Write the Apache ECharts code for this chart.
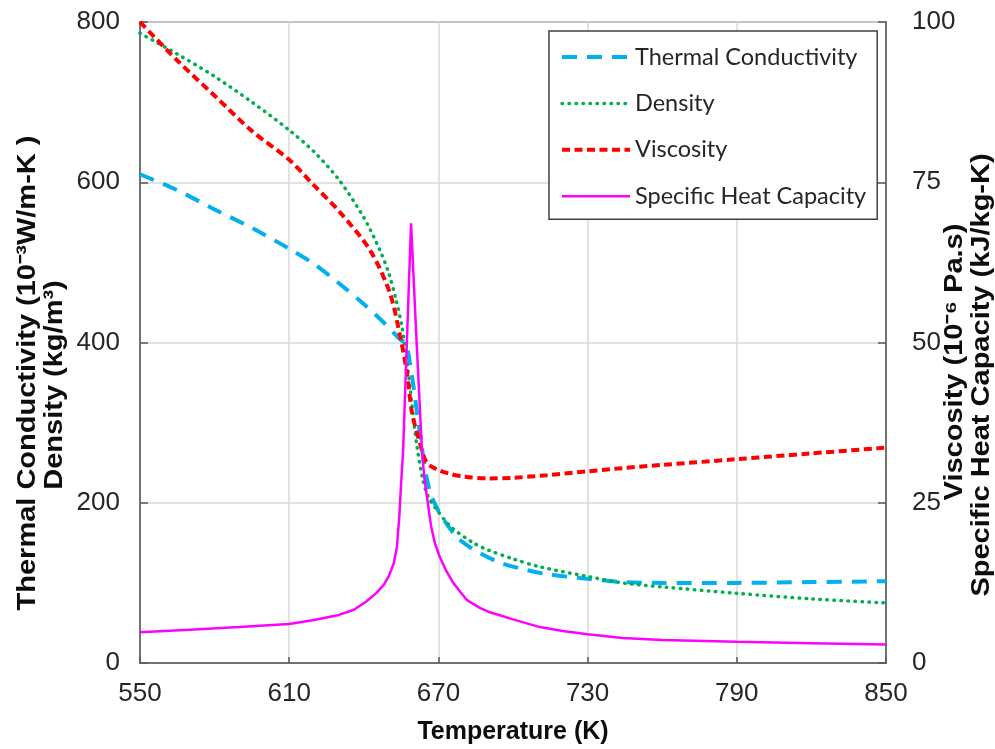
<!DOCTYPE html>
<html>
<head>
<meta charset="utf-8">
<script src="https://cdn.jsdelivr.net/npm/echarts@6/dist/echarts.min.js"></script>
<style>html,body{margin:0;padding:0;background:#fff}#c{width:995px;height:749px}</style>
</head>
<body>
<div id="c"></div>
<script>
// ---- data ----
const xTicks = [550, 610, 670, 730, 790, 850];
const leftTicks = [0, 200, 400, 600, 800];
const rightTicks = [0, 25, 50, 75, 100];

const kT = [550,565,580,595,610,620,630,640,648,654.6,657,658.5,660,661.5,662.6,664,665.5,667,670,673,677.5,682,686.7,695,705.6,713.6,730,744,760,790,820,850];
const kV = [610,590,566,543,517,498,474,448,425,404,398,375,345,310,287,255,228,210,190,175,157,146,137,125,116,111,105,101,100,100,101,102];

const dT = [550,565,580,595,610,620,630,640,646.5,650,653,655.3,657,658.6,660,661.4,663.8,666,669.4,675,684,690,700,710.8,730,744,760,790,820,850];
const dV = [786,760,732,700,665,638,603,556,515,487,453,420,385,344,305,270,228,207,191,170,150,141,130,120,108,100,95,87,80,75];

const vT = [550,565,580,595,610,620,630,642.5,650.5,654.6,657.4,659.4,662.6,665.4,670,674.7,680,690,700,713.6,730,744,760,790,820,850];
const vV = [100,94,88.5,83,78.5,74.5,70.5,64.4,57.7,51,45.2,39,34.3,31.2,30.1,29.5,29.1,28.8,28.9,29.3,29.9,30.4,30.9,31.8,32.7,33.6];

const cT = [550,570,590,610,620,630,636,641,645,648,650,652,653.3,654.3,655,655.8,657.4,659,661,663.4,664.3,665.4,667,668.5,670.6,673,676,679,681.5,686.7,690,695,700,710.8,720,730,744,760,790,820,850];
const cV = [4.8,5.2,5.6,6.1,6.7,7.5,8.3,9.6,10.9,12.2,13.5,15.5,18,23,28,33,51,68.6,52,33,29,25.9,21.5,18.8,16.5,14.5,12.5,11,9.8,8.6,8,7.4,6.8,5.6,5,4.5,3.9,3.6,3.3,3.1,2.9];

const names = ['Thermal Conductivity', 'Density', 'Viscosity', 'Specific Heat Capacity'];
const xTitle = 'Temperature (K)';
const leftTitles = ['Thermal Conductivity (10\u207B\u00B3W/m-K )', 'Density (kg/m\u00B3)'];
const rightTitles = ['Viscosity (10\u207B\u2076 Pa.s)', 'Specific Heat Capacity (kJ/kg-K)'];

const zip = (a, b) => a.map((t, i) => [t, b[i]]);

const chart = echarts.init(document.getElementById('c'), null, {renderer: 'canvas'});
const FF = 'Liberation Sans, Arial, sans-serif';
const axisFont = {fontFamily: FF, fontSize: 26, color: '#262626'};
const xNameFont = {fontFamily: FF, fontSize: 25, fontWeight: 'bold', color: '#0d0d0d'};

function vTitle(text, x, y) {
  return {
    type: 'text', x: x, y: y, rotation: Math.PI / 2, scaleX: 1.16, silent: true,
    style: {text: text, fontFamily: FF, fontSize: 25, fontWeight: 'bold', fill: '#0d0d0d',
            align: 'center', verticalAlign: 'middle', textAlign: 'center', textVerticalAlign: 'middle'}
  };
}

const legendLine = [4, 3.5, 4, 2.5];

chart.setOption({
  animation: false,
  backgroundColor: '#fff',
  grid: {left: 140, right: 109, top: 22, bottom: 86, outerBoundsMode: 'none', containLabel: false,
         show: true, borderColor: '#595959', borderWidth: 1.5, backgroundColor: 'transparent'},
  graphic: [
    vTitle(leftTitles[0], 28, 373),
    vTitle(leftTitles[1], 55, 385),
    vTitle(rightTitles[0], 955, 362),
    vTitle(rightTitles[1], 982, 375)
  ],
  legend: {
    orient: 'vertical', left: 549, top: 31,
    padding: [14, 11, 11, 11], itemGap: 22.4,
    itemWidth: 68, itemHeight: 14,
    backgroundColor: '#fff', borderColor: '#404040', borderWidth: 1.5, borderRadius: 0,
    itemStyle: {opacity: 0},
    textStyle: {fontFamily: 'Lato, sans-serif', fontSize: 23.5, lineHeight: 24, color: '#262626'},
    data: names.map((n, i) => ({name: n, lineStyle: {width: legendLine[i]}}))
  },
  xAxis: {
    type: 'value', min: xTicks[0], max: xTicks[xTicks.length - 1], interval: 60,
    name: xTitle, nameLocation: 'middle', nameGap: 57, nameTextStyle: xNameFont,
    axisLine: {show: true, lineStyle: {color: '#595959', width: 1.5}},
    axisTick: {show: true, inside: true, length: 6, lineStyle: {color: '#595959', width: 1.5}},
    axisLabel: Object.assign({margin: 18}, axisFont),
    splitLine: {show: true, lineStyle: {color: '#d9d9d9', width: 1.5}}
  },
  yAxis: [{
    type: 'value', min: leftTicks[0], max: leftTicks[leftTicks.length - 1], interval: 200,
    axisLine: {show: true, lineStyle: {color: '#595959', width: 1.5}},
    axisTick: {show: true, inside: true, length: 8, lineStyle: {color: '#595959', width: 1.5}},
    axisLabel: Object.assign({margin: 20}, axisFont),
    splitLine: {show: true, lineStyle: {color: '#d9d9d9', width: 1.5}}
  }, {
    type: 'value', min: rightTicks[0], max: rightTicks[rightTicks.length - 1], interval: 25,
    axisLine: {show: true, lineStyle: {color: '#595959', width: 1.5}},
    axisTick: {show: true, inside: true, length: 8, lineStyle: {color: '#595959', width: 1.5}},
    axisLabel: Object.assign({margin: 26}, axisFont),
    splitLine: {show: false}
  }],
  series: [{
    name: names[0], type: 'line', yAxisIndex: 0, data: zip(kT, kV),
    showSymbol: false, symbol: 'none', smooth: 0.3,
    lineStyle: {color: '#00b0f0', width: 4, type: [15, 10]}, itemStyle: {color: '#00b0f0'}
  }, {
    name: names[1], type: 'line', yAxisIndex: 0, data: zip(dT, dV),
    showSymbol: false, symbol: 'none', smooth: 0.3,
    lineStyle: {color: '#00b050', width: 3.5, type: [0.5, 6.5], cap: 'round'}, itemStyle: {color: '#00b050'}
  }, {
    name: names[2], type: 'line', yAxisIndex: 1, data: zip(vT, vV),
    showSymbol: false, symbol: 'none', smooth: 0.3,
    lineStyle: {color: '#ff0000', width: 4, type: [8, 4.5]}, itemStyle: {color: '#ff0000'}
  }, {
    name: names[3], type: 'line', yAxisIndex: 1, data: zip(cT, cV),
    showSymbol: false, symbol: 'none', smooth: false,
    lineStyle: {color: '#ff00ff', width: 2.5}, itemStyle: {color: '#ff00ff'}
  }]
});
</script>
</body>
</html>
